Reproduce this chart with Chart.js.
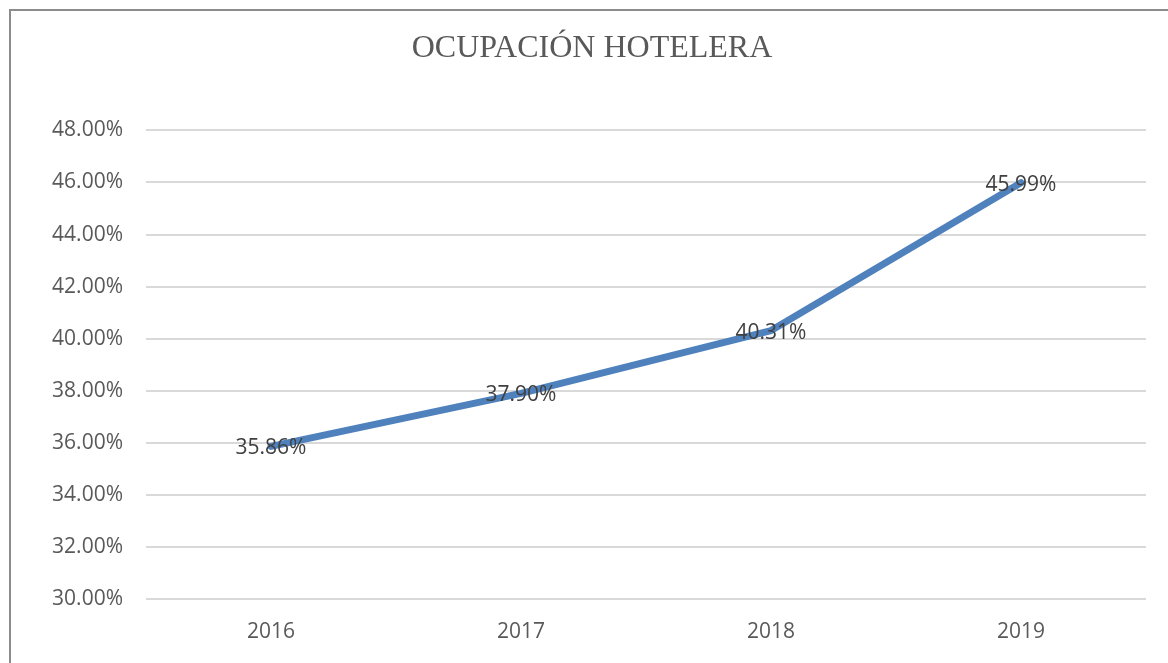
<!DOCTYPE html>
<html>
<head>
<meta charset="utf-8">
<style>
  html, body { margin: 0; padding: 0; background: #ffffff; }
  #wrap { width: 1168px; height: 663px; position: relative; }
</style>
<script src="https://cdn.jsdelivr.net/npm/chart.js@4.4.0/dist/chart.umd.min.js"></script>
</head>
<body>
<div id="wrap"><canvas id="ocupacion" width="1168" height="663"></canvas></div>
<script>
// Chart data
const years = ["2016", "2017", "2018", "2019"];
const occupancy = [35.86, 37.90, 40.31, 45.99];
const yTicks = [30, 32, 34, 36, 38, 40, 42, 44, 46, 48];

const labelFont = "'Open Sans', 'Noto Sans', sans-serif";

// Frame around the chart (right and bottom edges fall outside the picture)
const framePlugin = {
  id: "frame",
  beforeDraw: function (chart) {
    const ctx = chart.ctx;
    ctx.save();
    ctx.strokeStyle = "#8c8c8c";
    ctx.lineWidth = 2;
    ctx.strokeRect(10, 10, 1200, 700);
    ctx.restore();
  },
};

// Value labels centred on each point, drawn over the line
const valueLabels = {
  id: "valueLabels",
  afterDatasetsDraw: function (chart) {
    const ctx = chart.ctx;
    const meta = chart.getDatasetMeta(0);
    ctx.save();
    ctx.font = "21px " + labelFont;
    ctx.fillStyle = "#404040";
    ctx.textAlign = "center";
    ctx.textBaseline = "middle";
    meta.data.forEach(function (pt, i) {
      ctx.fillText(occupancy[i].toFixed(2) + "%", pt.x, pt.y + 2);
    });
    ctx.restore();
  },
};

new Chart(document.getElementById("ocupacion"), {
  type: "line",
  data: {
    labels: years,
    datasets: [
      {
        data: occupancy,
        borderColor: "#4f81bd",
        borderWidth: 7,
        borderCapStyle: "round",
        borderJoinStyle: "round",
        pointRadius: 0,
        tension: 0,
        fill: false,
      },
    ],
  },
  options: {
    responsive: false,
    animation: false,
    layout: {
      padding: { left: 38, right: 22, top: 12, bottom: 0 },
    },
    scales: {
      x: {
        offset: true,
        grid: { display: false, drawTicks: false },
        border: { display: false },
        ticks: {
          color: "#595959",
          font: { family: labelFont, size: 21 },
          padding: 20,
        },
        afterFit: function (scale) {
          scale.height = 64;
        },
      },
      y: {
        min: 30,
        max: 48,
        afterBuildTicks: function (scale) {
          scale.ticks = yTicks.map((v) => ({ value: v }));
        },
        grid: { color: "#d9d9d9", lineWidth: 2, drawTicks: false },
        border: { display: false },
        ticks: {
          color: "#595959",
          font: { family: labelFont, size: 21 },
          padding: 23,
          callback: function (v) {
            return v.toFixed(2) + "%";
          },
        },
        afterFit: function (scale) {
          scale.width = 108;
        },
      },
    },
    plugins: {
      legend: { display: false },
      tooltip: { enabled: false },
      title: {
        display: true,
        text: "OCUPACIÓN HOTELERA",
        color: "#595959",
        font: { family: "'Liberation Serif', 'DejaVu Serif', serif", size: 32, weight: "normal" },
        padding: { top: 17, bottom: 63 },
      },
    },
  },
  plugins: [framePlugin, valueLabels],
});
</script>
</body>
</html>
